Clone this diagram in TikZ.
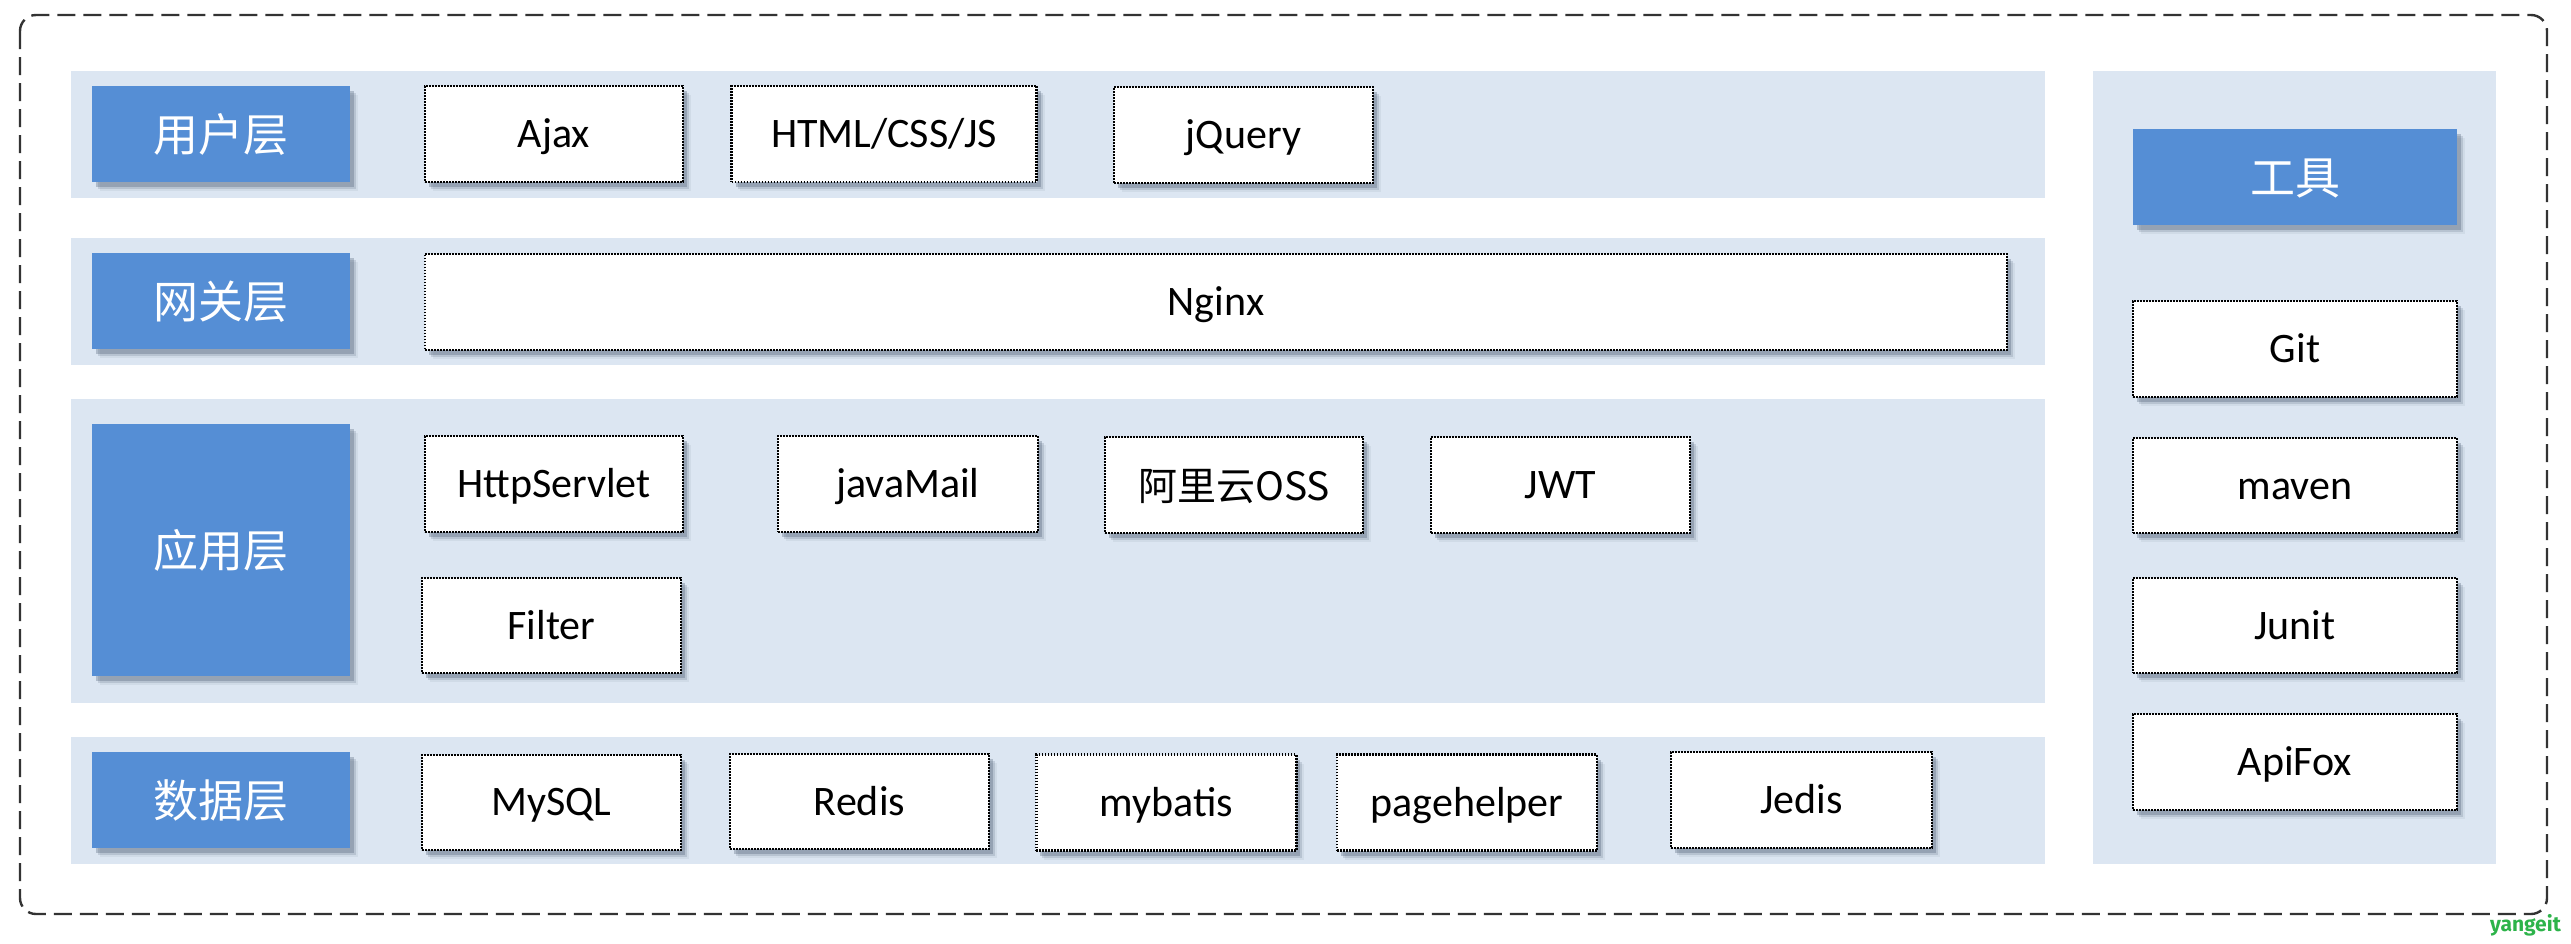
\documentclass[tikz,border=0pt]{standalone}
\usepackage{fontspec}
\setmainfont{Carlito}
\newfontfamily\cjk{Noto Sans CJK SC}
\newfontfamily\logofont{Fira Sans}
\usetikzlibrary{shadows}
\definecolor{bandc}{HTML}{DCE6F2}
\definecolor{bluec}{HTML}{558ED5}
\definecolor{shc}{HTML}{4A5A70}
\definecolor{logoc}{HTML}{2DB34A}
\definecolor{outerc}{HTML}{333333}
\tikzset{
  band/.style={fill=bandc},
  softshadow/.style={
    general shadow={fill=shc, opacity=0.30, shadow xshift=4pt, shadow yshift=-5pt},
    general shadow={fill=shc, opacity=0.18, shadow xshift=6pt, shadow yshift=-7pt},
    general shadow={fill=shc, opacity=0.08, shadow xshift=8pt, shadow yshift=-9pt}},
  bluebox/.style={softshadow, fill=bluec, text=white, inner sep=0pt, outer sep=0pt,
    font=\cjk\fontsize{45}{50}\selectfont, text height=34pt, text depth=0pt},
  wbox/.style={softshadow, fill=white, draw=black, line width=2.4pt,
    dash pattern=on 1.8pt off 1.2pt, inner sep=0pt, outer sep=0pt,
    font=\fontsize{42}{50}\selectfont, text height=27pt, text depth=0pt},
  outerbox/.style={draw=outerc, line width=2.4pt, dash pattern=on 18pt off 8pt,
    rounded corners=16pt},
}
\begin{document}
\begin{tikzpicture}[x=1pt,y=-1pt]
\useasboundingbox (0,0) rectangle (2571,943);
\fill[white] (0,0) rectangle (2571,943);
% outer frame
\draw[outerbox] (20,15) rectangle (2547,914);
% bands
\path[band] (71,71) rectangle (2045,198);
\path[band] (71,238) rectangle (2045,365);
\path[band] (71,399) rectangle (2045,703);
\path[band] (71,737) rectangle (2045,864);
\path[band] (2093,71) rectangle (2496,864);
% layer labels
\node[bluebox, minimum width=258, minimum height=96] (user) at (221,134) {用户层};
\node[bluebox, minimum width=258, minimum height=96] (gate) at (221,301) {网关层};
\node[bluebox, minimum width=258, minimum height=252] (app) at (221,550) {应用层};
\node[bluebox, minimum width=258, minimum height=96] (data) at (221,800) {数据层};
\node[bluebox, minimum width=324, minimum height=96] (tools) at (2295,177) {工具};
% user layer
\node[wbox, minimum width=258, minimum height=96] (ajax) at (554,134) {Ajax};
\node[wbox, minimum width=305, minimum height=96] (html) at (884,134) {HTML/CSS/JS};
\node[wbox, minimum width=259, minimum height=96] (jquery) at (1243.5,135) {jQuery};
% gateway layer
\node[wbox, minimum width=1582, minimum height=96] (nginx) at (1216,301.7) {Nginx};
% application layer
\node[wbox, minimum width=258, minimum height=96] (servlet) at (554,484) {HttpServlet};
\node[wbox, minimum width=260, minimum height=96] (mail) at (907.8,484) {javaMail};
\node[wbox, minimum width=258, minimum height=96, font=\cjk\fontsize{39}{45}\selectfont, text height=30pt] (oss) at (1234,485) {阿里云OSS};
\node[wbox, minimum width=259, minimum height=96] (jwt) at (1560.5,485) {JWT};
\node[wbox, minimum width=259, minimum height=95] (filter) at (551.5,625.5) {Filter};
% data layer
\node[wbox, minimum width=259, minimum height=95] (mysql) at (551.5,802.4) {MySQL};
\node[wbox, minimum width=259, minimum height=95] (redis) at (859.5,801.7) {Redis};
\node[wbox, minimum width=260, minimum height=96] (mybatis) at (1166.3,802.5) {mybatis};
\node[wbox, minimum width=260, minimum height=96] (pagehelper) at (1467,802.5) {pagehelper};
\node[wbox, minimum width=261, minimum height=96] (jedis) at (1801.5,800) {Jedis};
% tools
\node[wbox, minimum width=324, minimum height=96] (git) at (2295,349) {Git};
\node[wbox, minimum width=324, minimum height=95] (maven) at (2295,485.5) {maven};
\node[wbox, minimum width=324, minimum height=95] (junit) at (2295,625.5) {Junit};
\node[wbox, minimum width=324, minimum height=96] (apifox) at (2295,762) {ApiFox};
% watermark
\node[text=logoc, font=\logofont\bfseries\fontsize{21}{23}\selectfont, inner sep=0pt, anchor=north east] (logo) at (2561,914) {yangeit};
\end{tikzpicture}
\end{document}
